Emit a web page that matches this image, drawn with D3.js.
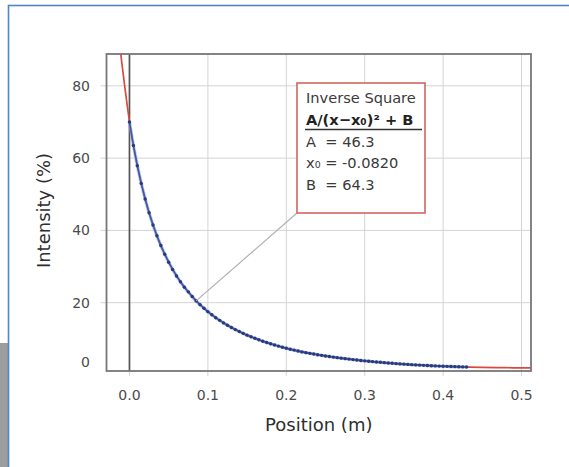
<!DOCTYPE html>
<html>
<head>
<meta charset="utf-8">
<script src="https://cdn.jsdelivr.net/npm/d3@7"></script>
<style>
  html, body { margin: 0; padding: 0; background: #fff; }
  svg { display: block; }
  text { font-family: "DejaVu Sans", sans-serif; }
</style>
</head>
<body>
<svg id="chart" width="569" height="467"></svg>
<script>
// ---- data ----
const positions = [0.000,0.005,0.010,0.015,0.020,0.025,0.030,0.035,0.040,0.045,0.050,0.055,0.060,0.065,0.070,0.075,0.080,0.085,0.090,0.095,0.100,0.105,0.110,0.115,0.120,0.125,0.130,0.135,0.140,0.145,0.150,0.155,0.160,0.165,0.170,0.175,0.180,0.185,0.190,0.195,0.200,0.205,0.210,0.215,0.220,0.225,0.230,0.235,0.240,0.245,0.250,0.255,0.260,0.265,0.270,0.275,0.280,0.285,0.290,0.295,0.300,0.305,0.310,0.315,0.320,0.325,0.330,0.335,0.340,0.345,0.350,0.355,0.360,0.365,0.370,0.375,0.380,0.385,0.390,0.395,0.400,0.405,0.410,0.415,0.420,0.425,0.430];
const intensity = [70.0,63.5,57.9,53.0,48.7,44.9,41.5,38.5,35.8,33.4,31.2,29.2,27.4,25.8,24.3,23.0,21.7,20.5,19.45,18.46,17.52,16.66,15.85,15.11,14.41,13.75,13.13,12.56,12.02,11.51,11.02,10.57,10.14,9.74,9.35,8.98,8.63,8.30,7.99,7.69,7.41,7.13,6.88,6.63,6.39,6.18,5.98,5.79,5.60,5.43,5.26,5.10,4.94,4.80,4.65,4.52,4.39,4.26,4.14,4.02,3.91,3.80,3.70,3.60,3.50,3.41,3.32,3.23,3.15,3.07,2.99,2.92,2.85,2.79,2.73,2.67,2.61,2.56,2.51,2.46,2.42,2.38,2.34,2.30,2.27,2.24,2.21];
const fitPositions = [-0.014,-0.010,-0.006,-0.003,0.000,0.010,0.020,0.030,0.045,0.060,0.080,0.100,0.125,0.150,0.180,0.210,0.250,0.300,0.350,0.400,0.430,0.450,0.470,0.490,0.515];
const fitIntensity = [94.5,86.8,79.8,74.8,70.0,57.9,48.7,41.5,33.4,27.4,21.7,17.5,13.75,11.0,8.63,6.88,5.26,3.91,2.99,2.42,2.21,2.12,2.05,1.99,1.93];
const xTicks = [0.0,0.1,0.2,0.3,0.4,0.5];
const yTicks = [0,20,40,60,80];
const annotationLines = ["Inverse Square","A/(x−x₀)² + B","A  = 46.3","x₀ = -0.0820","B  = 64.3"];
const xTitle = "Position (m)";
const yTitle = "Intensity (%)";

// ---- layout ----
const svg = d3.select("#chart");
const plot = {left: 106.5, right: 531, top: 54, bottom: 371};

// page decoration: grey block and blue frame
svg.append("rect").attr("x", 0).attr("y", 343).attr("width", 8).attr("height", 124).attr("fill", "#9d9d9d");
svg.append("rect").attr("x", 8.5).attr("y", 5.5).attr("width", 600).attr("height", 500)
   .attr("fill", "none").attr("stroke", "#4f86c6").attr("stroke-width", 1.6);

const x = d3.scaleLinear().domain([-0.0293, 0.5121]).range([plot.left, plot.right]);
const y = d3.scaleLinear().domain([1.1, 88.8]).range([plot.bottom, plot.top]);

// grid
const grid = svg.append("g");
grid.selectAll("line.gx").data(xTicks).join("line")
  .attr("x1", d => x(d)).attr("x2", d => x(d))
  .attr("y1", plot.top).attr("y2", plot.bottom + 5)
  .attr("stroke", "#d4d4d4").attr("stroke-width", 1);
grid.selectAll("line.gy").data(yTicks.filter(d => d >= y.domain()[0])).join("line")
  .attr("y1", d => y(d)).attr("y2", d => y(d))
  .attr("x1", plot.left - 6).attr("x2", plot.right)
  .attr("stroke", "#d4d4d4").attr("stroke-width", 1);

// x = 0 reference line
svg.append("line").attr("x1", x(0)).attr("x2", x(0)).attr("y1", plot.top).attr("y2", plot.bottom)
   .attr("stroke", "#555").attr("stroke-width", 1.7);

// clip
svg.append("clipPath").attr("id", "clip").append("rect")
   .attr("x", plot.left).attr("y", plot.top).attr("width", plot.right - plot.left).attr("height", plot.bottom - plot.top);

const body = svg.append("g").attr("clip-path", "url(#clip)");

// fit (red)
const fitData = fitPositions.map((p, i) => [p, fitIntensity[i]]);
body.append("path").datum(fitData)
  .attr("d", d3.line().x(d => x(d[0])).y(d => y(d[1])).curve(d3.curveMonotoneX))
  .attr("fill", "none").attr("stroke", "#d9493f").attr("stroke-width", 1.7);

// data (blue)
const data = positions.map((p, i) => [p, intensity[i]]);
body.append("path").datum(data)
  .attr("d", d3.line().x(d => x(d[0])).y(d => y(d[1])))
  .attr("fill", "none").attr("stroke", "#8ea6d6").attr("stroke-width", 3.4).attr("stroke-opacity", 0.6);
body.append("path").datum(data)
  .attr("d", d3.line().x(d => x(d[0])).y(d => y(d[1])))
  .attr("fill", "none").attr("stroke", "#3f5aa6").attr("stroke-width", 1.6);
body.selectAll("circle").data(data).join("circle")
  .attr("cx", d => x(d[0])).attr("cy", d => y(d[1])).attr("r", 1.7)
  .attr("fill", "#283a7e");

// frame
svg.append("rect").attr("x", plot.left).attr("y", plot.top)
   .attr("width", plot.right - plot.left).attr("height", plot.bottom - plot.top)
   .attr("fill", "none").attr("stroke", "#777").attr("stroke-width", 1.8);

// tick labels
svg.append("g").selectAll("text").data(xTicks).join("text")
  .attr("x", d => x(d)).attr("y", 400)
  .attr("text-anchor", "middle").attr("font-size", 14).attr("fill", "#4a4a4a")
  .text(d => d3.format(".1f")(d));
svg.append("g").selectAll("text").data(yTicks).join("text")
  .attr("x", 90).attr("y", d => Math.min(y(d), plot.bottom - 9))
  .attr("dy", "0.36em")
  .attr("text-anchor", "end").attr("font-size", 14).attr("fill", "#4a4a4a")
  .text(d => d);

// axis titles
svg.append("text").attr("x", (plot.left + plot.right) / 2).attr("y", 431)
  .attr("text-anchor", "middle").attr("font-size", 18).attr("fill", "#2e2e2e").text(xTitle);
svg.append("text").attr("transform", `translate(44,${(plot.top + plot.bottom) / 2 - 2}) rotate(-90)`)
  .attr("dy", "0.35em")
  .attr("text-anchor", "middle").attr("font-size", 18).attr("fill", "#2e2e2e").text(yTitle);

// annotation
const box = {left: 297, top: 83, right: 425, bottom: 213};
const target = data[17];
svg.append("line").attr("x1", box.left).attr("y1", box.bottom)
  .attr("x2", x(target[0])).attr("y2", y(target[1]))
  .attr("stroke", "#b0b0b0").attr("stroke-width", 1.2);
svg.append("rect").attr("x", box.left).attr("y", box.top)
  .attr("width", box.right - box.left).attr("height", box.bottom - box.top)
  .attr("fill", "#fff").attr("stroke", "#cf6660").attr("stroke-width", 1.6);
const ann = svg.append("g");
annotationLines.forEach((t, i) => {
  ann.append("text").attr("x", box.left + 9).attr("y", box.top + 20 + i * 21.8)
    .attr("font-size", 14.6).attr("fill", i === 1 ? "#222" : "#3a3a3a")
    .attr("font-weight", i === 1 ? "bold" : "normal")
    .style("white-space", "pre")
    .text(t);
});
ann.append("line").attr("x1", box.left + 8).attr("x2", box.right - 3)
  .attr("y1", box.top + 46.5).attr("y2", box.top + 46.5)
  .attr("stroke", "#333").attr("stroke-width", 1.6);
</script>
</body>
</html>
